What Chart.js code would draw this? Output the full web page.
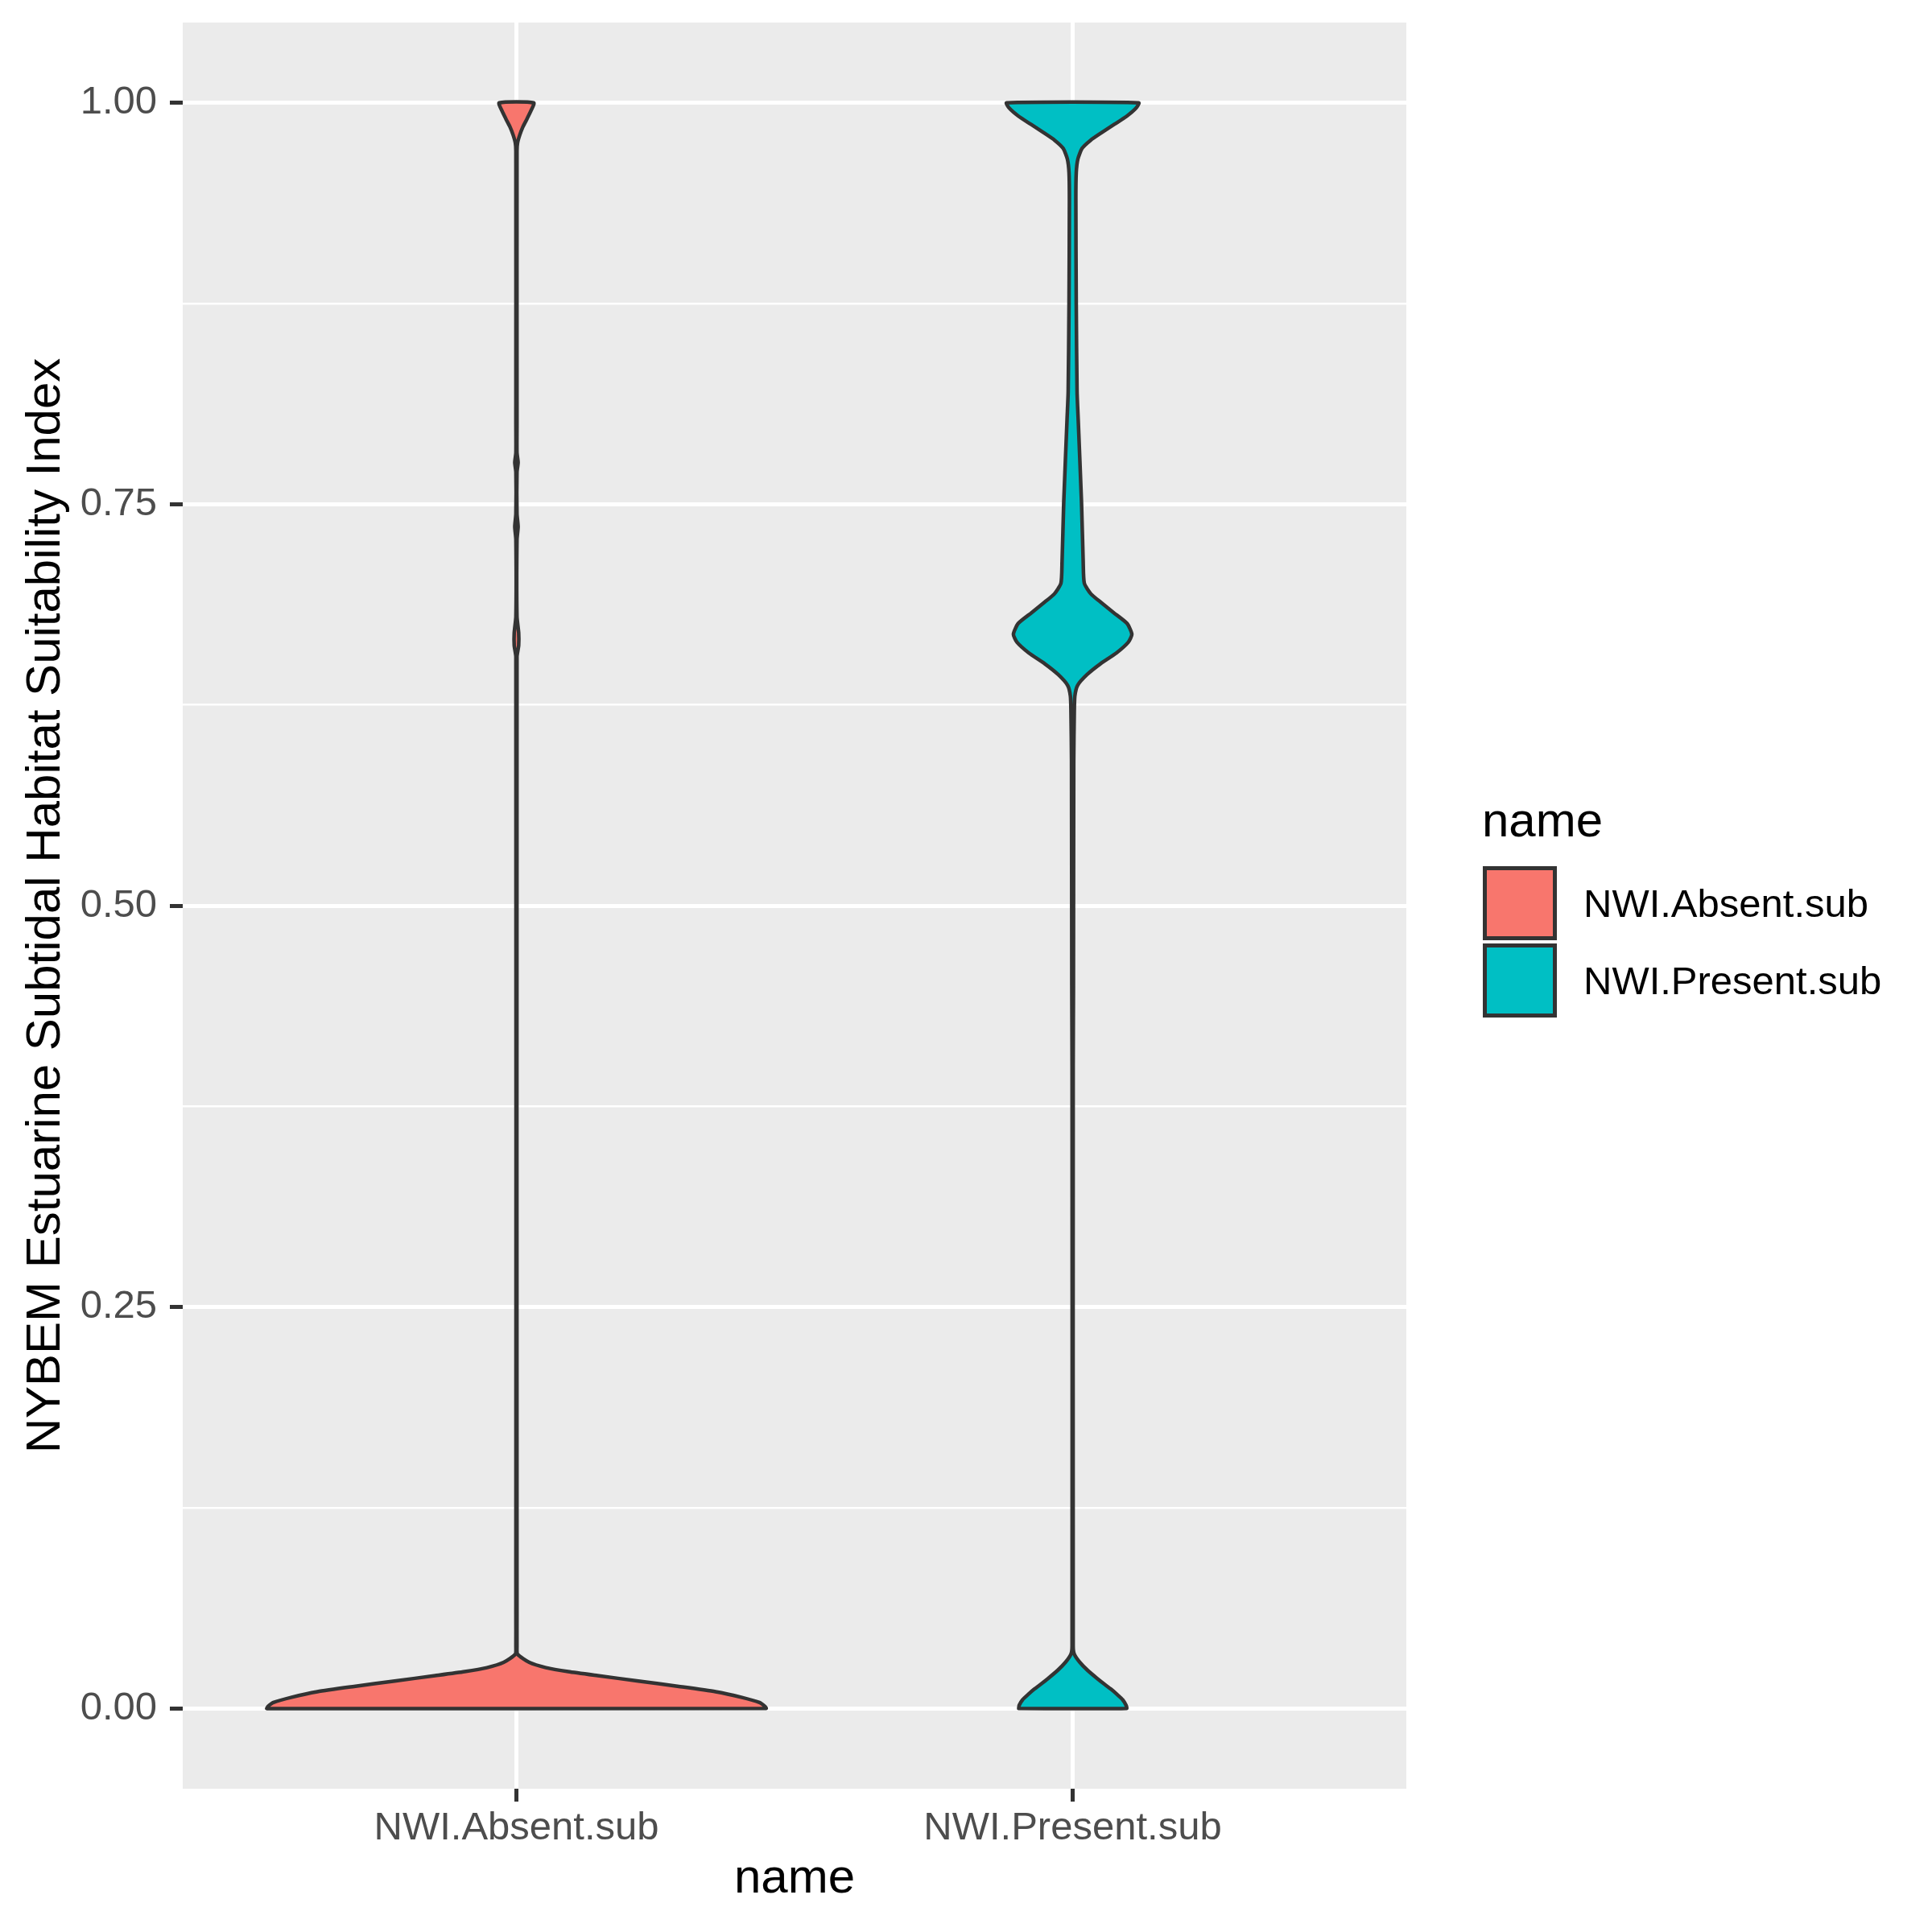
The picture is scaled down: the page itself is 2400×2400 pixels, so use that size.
<!DOCTYPE html>
<html>
<head>
<meta charset="utf-8">
<script src="https://cdn.jsdelivr.net/npm/chart.js@4/dist/chart.umd.min.js"></script>
<style>
  body { margin: 0; background: #ffffff; }
  #wrap { position: relative; width: 2400px; height: 2400px; font-family: "Liberation Sans", Arial, sans-serif; }
  #legend { position: absolute; left: 1841px; top: 980px; }
  .leg-title { position: absolute; left: 0; top: 0; font-size: 60px; line-height: 78px; color: #000; white-space: nowrap; }
  .leg-key { position: absolute; left: 1px; width: 92px; height: 92px; box-sizing: border-box; border: 5px solid #333333; }
  .leg-label { position: absolute; left: 126px; font-size: 49px; line-height: 92px; color: #000; white-space: nowrap; }
</style>
</head>
<body>
<div id="wrap">
  <canvas id="violinChart" width="2400" height="2400"></canvas>
  <div id="legend"></div>
</div>
<script>
// categories and colours (ggplot default hues)
const categories = ['NWI.Absent.sub', 'NWI.Present.sub'];
const fillColors = ['#F8766D', '#00BFC4'];
const yTicks = [0, 0.25, 0.5, 0.75, 1];

// violin outlines: suitability level -> half width (in category units)
const absentLevels = [0, 0.0012, 0.0037, 0.0070, 0.0104, 0.0137, 0.0171, 0.0204, 0.0229, 0.0254, 0.0287, 0.0338, 0.0388,
  0.06, 0.655, 0.662, 0.670, 0.680, 0.728, 0.736, 0.744, 0.770, 0.776, 0.782, 0.80,
  0.970, 0.975, 0.980, 0.985, 0.990, 0.995, 1];
const absentWidths = [0.449, 0.447, 0.437, 0.404, 0.358, 0.292, 0.219, 0.146, 0.093, 0.053, 0.023, 0.002, 0.001,
  0.001, 0.001, 0.004, 0.004, 0.001, 0.001, 0.003, 0.001, 0.001, 0.003, 0.001, 0.001,
  0.001, 0.002, 0.006, 0.0116, 0.019, 0.026, 0.031];

const presentLevels = [0, 0.0020, 0.0054, 0.0087, 0.0120, 0.0154, 0.0187, 0.0237, 0.0287, 0.0338, 0.0388,
  0.40, 0.45, 0.59, 0.6205, 0.6305, 0.6372, 0.6439, 0.6506, 0.6573, 0.6640, 0.6690, 0.6757, 0.6824, 0.6891,
  0.6941, 0.7008, 0.714, 0.751, 0.803, 0.82, 0.875, 0.94, 0.9565, 0.9649, 0.9716, 0.9766, 0.9816, 0.9866,
  0.9916, 0.9967, 1];
const presentWidths = [0.097, 0.096, 0.090, 0.080, 0.069, 0.056, 0.044, 0.027, 0.013, 0.003, 0.001,
  0.001, 0.0015, 0.002, 0.003, 0.004, 0.009, 0.026, 0.050, 0.0785, 0.100, 0.1065, 0.098, 0.074, 0.050,
  0.033, 0.021, 0.019, 0.016, 0.010, 0.008, 0.0065, 0.0058, 0.0065, 0.0094, 0.017, 0.032, 0.053, 0.075,
  0.097, 0.114, 0.1188];

// closed outline: up the left side, down the right side, back to start
function violinPoints(pos, levels, widths) {
    const left = levels.map((v, i) => ({ x: pos - widths[i], y: v }));
    const right = levels.map((v, i) => ({ x: pos + widths[i], y: v })).reverse();
    return left.concat(right, [left[0]]);
}

// minor grid sits halfway between the major ticks
const gridLevels = [];
yTicks.forEach((v, i) => {
    gridLevels.push(v);
    if (i < yTicks.length - 1) gridLevels.push((v + yTicks[i + 1]) / 2);
});
const isMajor = v => yTicks.some(t => Math.abs(t - v) < 1e-9);

const panelBg = {
    id: 'panelBg',
    beforeDraw(chart) {
        const { ctx, chartArea: a } = chart;
        ctx.save();
        ctx.fillStyle = '#EBEBEB';
        ctx.fillRect(a.left, a.top, a.right - a.left, a.bottom - a.top);
        ctx.restore();
    }
};

const datasets = [
    { label: categories[0], data: violinPoints(1, absentLevels, absentWidths) },
    { label: categories[1], data: violinPoints(2, presentLevels, presentWidths) }
].map((d, i) => Object.assign(d, {
    showLine: true,
    fill: 'shape',
    backgroundColor: fillColors[i],
    borderColor: '#333333',
    borderWidth: 4.5,
    borderJoinStyle: 'round',
    borderCapStyle: 'round',
    pointRadius: 0,
    pointHoverRadius: 0,
    tension: 0.2
}));

const axisFont = { family: '"Liberation Sans", Arial', size: 49 };
const titleFont = { family: '"Liberation Sans", Arial', size: 60 };

const ctx = document.getElementById('violinChart').getContext('2d');
new Chart(ctx, {
    type: 'scatter',
    data: { datasets },
    plugins: [panelBg],
    options: {
        responsive: false,
        animation: false,
        devicePixelRatio: 1,
        layout: { padding: { top: 28, right: 653, left: 0, bottom: 0 } },
        plugins: { legend: { display: false }, tooltip: { enabled: false } },
        scales: {
            x: {
                type: 'linear',
                min: 0.4,
                max: 2.6,
                afterBuildTicks: scale => { scale.ticks = categories.map((c, i) => ({ value: i + 1 })); },
                afterFit: scale => { scale.height = 178; scale.paddingLeft = 0; scale.paddingRight = 0; },
                ticks: {
                    autoSkip: false,
                    maxRotation: 0,
                    padding: 4,
                    color: '#4D4D4D',
                    font: axisFont,
                    callback: v => categories[Math.round(v) - 1]
                },
                grid: { color: '#FFFFFF', lineWidth: 5, tickColor: '#333333', tickLength: 16, tickWidth: 5 },
                border: { display: false },
                title: {
                    display: true,
                    text: 'name',
                    color: '#000000',
                    font: titleFont,
                    padding: { top: 0, bottom: 30 }
                }
            },
            y: {
                type: 'linear',
                min: -0.05,
                max: 1.05,
                afterBuildTicks: scale => { scale.ticks = gridLevels.map(v => ({ value: v })); },
                afterFit: scale => { scale.width = 227; scale.paddingTop = 0; scale.paddingBottom = 0; },
                ticks: {
                    autoSkip: false,
                    padding: 16,
                    color: '#4D4D4D',
                    font: axisFont,
                    callback: v => isMajor(v) ? v.toFixed(2) : ''
                },
                grid: {
                    color: '#FFFFFF',
                    lineWidth: c => (c.tick && isMajor(c.tick.value)) ? 5 : 2.5,
                    tickColor: c => (c.tick && isMajor(c.tick.value)) ? '#333333' : 'rgba(0,0,0,0)',
                    tickLength: 16,
                    tickWidth: 5
                },
                border: { display: false },
                title: {
                    display: true,
                    text: 'NYBEM Estuarine Subtidal Habitat Suitability Index',
                    color: '#000000',
                    font: titleFont,
                    padding: { top: 21, bottom: 0 }
                }
            }
        }
    }
});

// legend (ggplot style, keys stacked under the title)
const legend = document.getElementById('legend');
legend.innerHTML = '<div class="leg-title">name</div>' + categories.map((c, i) =>
    `<div class="leg-key" style="top:${96 + i * 96}px;background:${fillColors[i]}"></div>` +
    `<div class="leg-label" style="top:${96 + i * 96}px">${c}</div>`).join('');
</script>
</body>
</html>
